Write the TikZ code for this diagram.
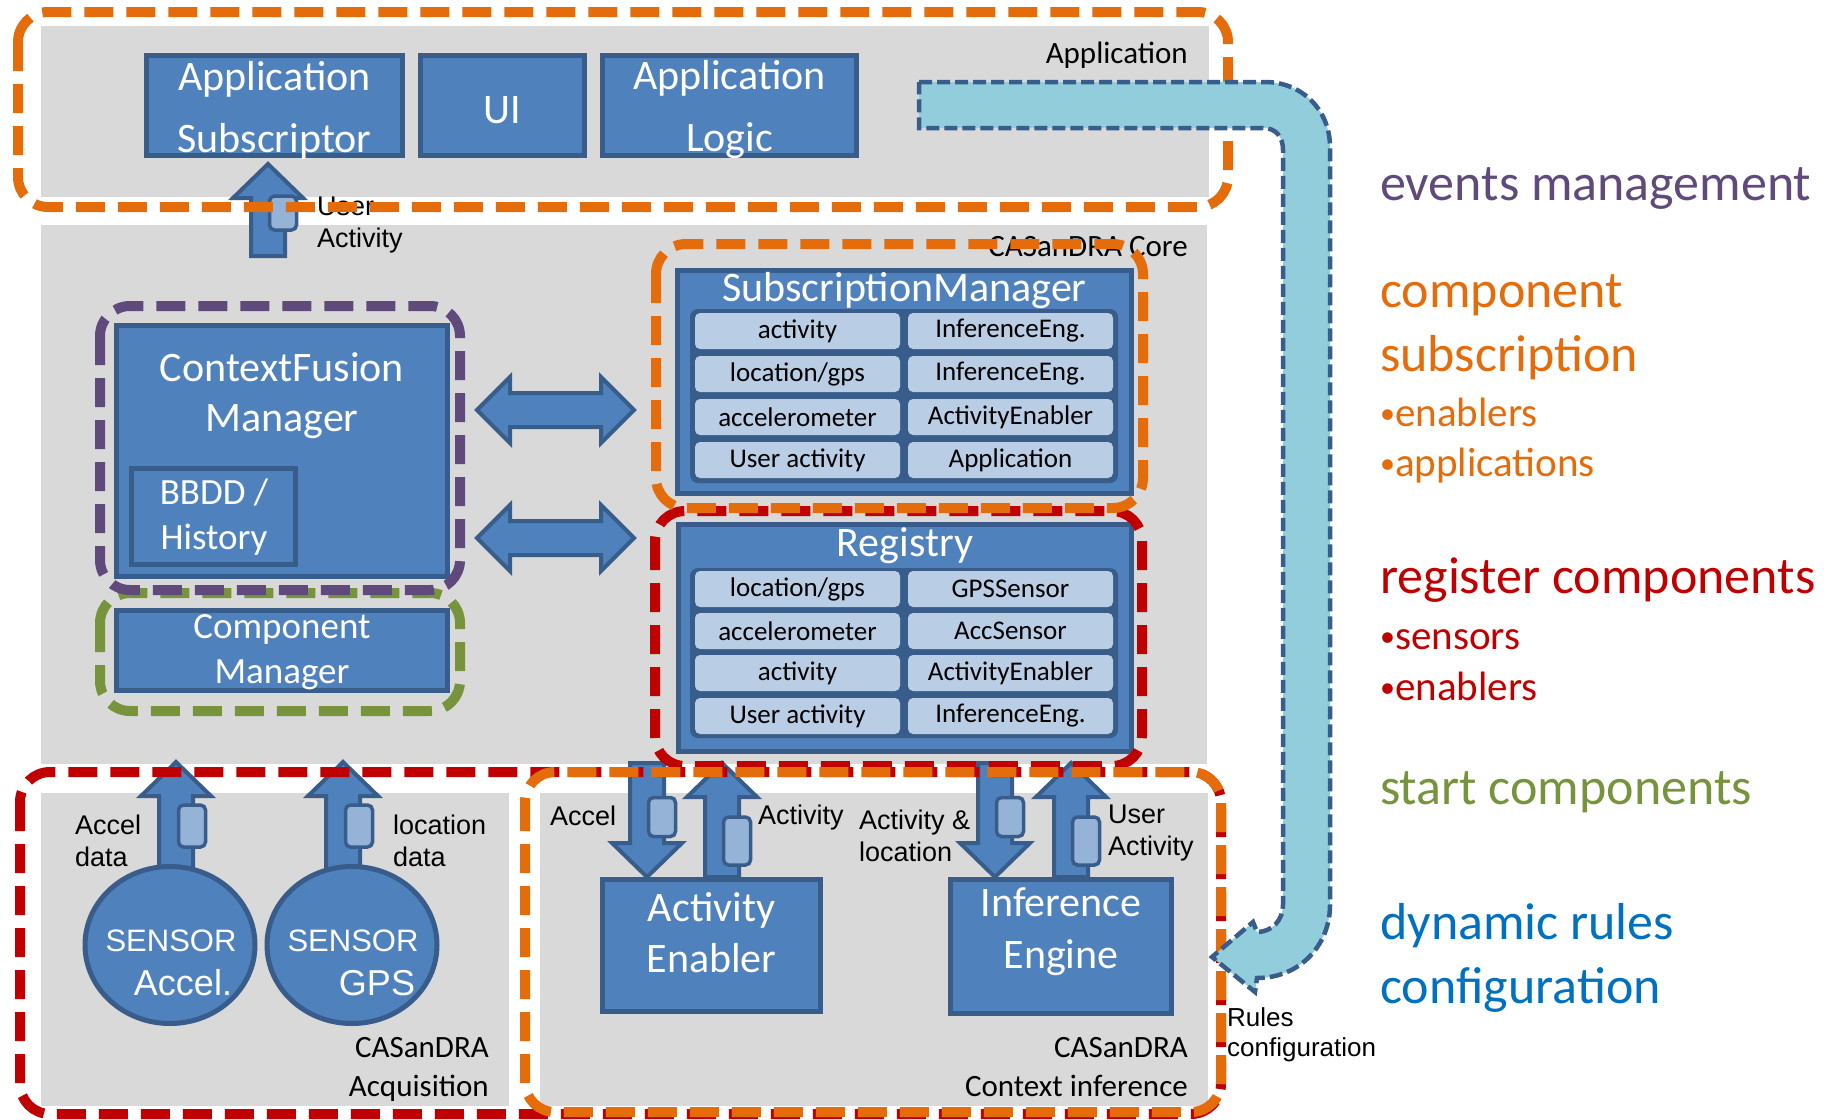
\documentclass[tikz,border=0pt]{standalone}
\usepackage{fontspec}
\setmainfont{Carlito}
\newfontfamily\arialFont{Liberation Sans}
\usetikzlibrary{calc,shapes.geometric}

\definecolor{boxBlue}{HTML}{4F81BD}
\definecolor{boxLine}{HTML}{385D8A}
\definecolor{cellBlue}{HTML}{B9CDE5}
\definecolor{tagBlue}{HTML}{95B3D7}
\definecolor{areaGray}{HTML}{D9D9D9}
\definecolor{eventFill}{HTML}{92CDDC}
\definecolor{grpOrange}{HTML}{E46C0A}
\definecolor{grpRed}{HTML}{C00000}
\definecolor{grpPurple}{HTML}{604A7B}
\definecolor{grpGreen}{HTML}{77933C}
\definecolor{grpBlue}{HTML}{0070C0}

%% small raised bullet of the legend
\newcommand{\legendDot}{{\fontsize{30}{30}\selectfont\raisebox{3pt}{•}}}
%% vertical block arrow from tail to tip
\newcommand{\blockArrow}[2]{%
  \draw[arrowDecorate] let \p1=(#1), \p2=(#2), \p3=($(#2)!34pt!(#1)$) in
    (\x2-17pt,\y1) -- (\x2-17pt,\y3) -- (\x2-35pt,\y3) -- (\x2,\y2)
    -- (\x2+35pt,\y3) -- (\x2+17pt,\y3) -- (\x2+17pt,\y1) -- cycle;}
%% horizontal double block arrow between two tips
\newcommand{\doubleArrow}[2]{%
  \draw[arrowDecorate] let \p1=(#1), \p2=(#2) in
    (\x1,\y1) -- (\x1+33pt,\y1+33pt) -- (\x1+33pt,\y1+17pt) -- (\x2-33pt,\y1+17pt)
    -- (\x2-33pt,\y1+33pt) -- (\x2,\y1) -- (\x2-33pt,\y1-33pt) -- (\x2-33pt,\y1-17pt)
    -- (\x1+33pt,\y1-17pt) -- (\x1+33pt,\y1-33pt) -- cycle;}

\begin{document}
\begin{tikzpicture}
[x=1pt,y=-1pt,
  areaDecorate/.style={fill=areaGray},
  boxDecorate/.style={draw=boxLine,fill=boxBlue,line width=5pt,inner sep=0pt},
  boxText/.style={text=white,align=center,inner sep=0pt,font=\fontsize{42}{50}\selectfont},
  frameDecorate/.style={fill=boxLine,rounded corners=8pt},
  cellDecorate/.style={fill=cellBlue,rounded corners=5pt,inner sep=0pt,minimum width=205pt,
    minimum height=36pt,font=\fontsize{27}{30}\selectfont},
  tagDecorate/.style={draw=boxLine,fill=tagBlue,line width=3.5pt,rounded corners=5pt,
    inner sep=0pt,minimum width=27pt},
  arrowDecorate/.style={draw=boxLine,fill=boxBlue,line width=4pt},
  sensorDecorate/.style={ellipse,draw=boxLine,fill=boxBlue,line width=5pt,inner sep=0pt,
    minimum width=170pt,minimum height=157pt},
  sensorText/.style={text=white,inner sep=0pt,font=\arialFont\fontsize{31}{36}\selectfont},
  groupDecorate/.style={line width=10pt,dash pattern=on 29pt off 13pt,rounded corners=30pt},
  eventDecorate/.style={fill=eventFill,draw=boxLine,line width=4.5pt,dash pattern=on 13pt off 5pt},
  noteText/.style={inner sep=0pt,align=left,font=\arialFont\fontsize{27}{32}\selectfont},
  areaText/.style={inner sep=0pt,align=right,font=\fontsize{31}{39}\selectfont},
  legendText/.style={inner sep=0pt,anchor=base west,font=\fontsize{52}{60}\selectfont},
  bulletText/.style={inner sep=0pt,anchor=base west,font=\fontsize{41}{48}\selectfont}]
\fill[white] (0,0) rectangle (1841,1119);
\useasboundingbox (0,0) rectangle (1841,1119);

%% grey areas
\fill[areaDecorate] (41,26) rectangle (1209,197);
\fill[areaDecorate] (41,225) rectangle (1207,764);
\fill[areaDecorate] (41,793) rectangle (509,1106);
\fill[areaDecorate] (540,793) rectangle (1208,1106);

%% labels lying under the dashed lines
\node[areaText,anchor=east] (coreLabel) at (1188,247) {CASanDRA Core};
\node[noteText,anchor=west] (uaLabel) at (317,225) {User\\Activity};

%% application boxes
\foreach \nodename/\x/\w/\txt in {
  appSub/274.5/256/{Application\\Subscriptor}, ui/502.5/164/UI,
  appLogic/729.5/254/{Application\\Logic}}
{
  \node[boxDecorate,minimum width=\w pt,minimum height=100pt] (\nodename) at (\x,105.5) {};
  \node[boxText,font=\fontsize{42}{62}\selectfont] (\nodename Text) at (\x,110) {\txt};
}

%% context fusion and component manager
\node[boxDecorate,minimum width=331pt,minimum height=251pt] (cfm) at (282,451) {};
\node[boxText] (cfmText) at (282,395.5) {ContextFusion\\Manager};
\node[boxDecorate,minimum width=164pt,minimum height=96pt] (bbdd) at (213.5,516.5) {};
\node[boxText,font=\fontsize{37}{45}\selectfont] (bbddText) at (214,517.5) {BBDD /\\History};
\node[boxDecorate,minimum width=331pt,minimum height=80pt] (compMgr) at (282,650.5) {};
\node[boxText,font=\fontsize{37}{45}\selectfont] (compMgrText) at (282,652.5) {Component\\Manager};

%% subscription manager
\node[boxDecorate,minimum width=454pt,minimum height=223pt] (subMgr) at (904.5,382) {};
\node[boxText] (subMgrText) at (904.5,291) {SubscriptionManager};
\fill[frameDecorate] (690,309) rectangle (1118,483);
\foreach \row/\y/\lefttxt/\righttxt in {
  1/331/activity/InferenceEng., 2/374/{location/gps}/InferenceEng.,
  3/417/accelerometer/ActivityEnabler, 4/460/User activity/Application}
{
  \node[cellDecorate] (sm\row l) at (797.5,\y) {\lefttxt};
  \node[cellDecorate] (sm\row r) at (1010.5,\y) {\righttxt};
}

%% registry
\node[boxDecorate,minimum width=453pt,minimum height=227pt] (registry) at (905,638) {};
\node[boxText] (registryText) at (905,546) {Registry};
\fill[frameDecorate] (690,568) rectangle (1118,738);
\foreach \row/\y/\lefttxt/\righttxt in {
  1/589/{location/gps}/GPSSensor, 2/631/accelerometer/AccSensor,
  3/673/activity/ActivityEnabler, 4/716/User activity/InferenceEng.}
{
  \node[cellDecorate] (rg\row l) at (797.5,\y) {\lefttxt};
  \node[cellDecorate] (rg\row r) at (1010.5,\y) {\righttxt};
}

%% enablers
\node[boxDecorate,minimum width=218pt,minimum height=132pt] (actEn) at (711.5,945.5) {};
\node[boxText,font=\fontsize{42}{51}\selectfont] (actEnText) at (711.5,932.5) {Activity\\Enabler};
\node[boxDecorate,minimum width=221pt,minimum height=134pt] (infEng) at (1061,946.5) {};
\node[boxText,font=\fontsize{42}{52}\selectfont] (infEngText) at (1061,932) {Inference\\Engine};

%% block arrows with their data tags
\foreach \name/\x/\ya/\yb in {
  ua/268/256/164, sa/176/880/762, sg/343/880/762,
  ac/647/763/877, at/722/877/763, al/995/763/877, us/1071/877/763}
{
  \coordinate (\name Tail) at (\x,\ya);
  \coordinate (\name Tip) at (\x,\yb);
  \blockArrow{\name Tail}{\name Tip}
}
\foreach \name/\x/\y/\th in {
  ua/283/213/34, sa/192/826/42, sg/359/826/42,
  ac/662/817/39, at/737/841/48, al/1010/817/39, us/1086/841/48}
{
  \node[tagDecorate,minimum height=\th pt] (\name Tag) at (\x,\y) {};
}

\coordinate (cfUp) at (477,410);
\coordinate (smLeft) at (634,410);
\coordinate (cfDown) at (477,538);
\coordinate (rgLeft) at (634,538);
\doubleArrow{cfUp}{smLeft}
\doubleArrow{cfDown}{rgLeft}

%% sensors
\node[sensorDecorate] (sensAcc) at (170,945) {};
\node[sensorDecorate] (sensGps) at (352,945) {};
\node[sensorText] (sensAccTop) at (171,941) {SENSOR};
\node[sensorText,font=\arialFont\fontsize{36}{40}\selectfont] (sensAccBot) at (183,983) {Accel.};
\node[sensorText] (sensGpsTop) at (353,941) {SENSOR};
\node[sensorText,font=\arialFont\fontsize{36}{40}\selectfont] (sensGpsBot) at (377,983) {GPS};

%% dashed groups
\draw[groupDecorate,draw=grpOrange] (18,12) rectangle (1228,207);
\draw[groupDecorate,draw=grpGreen] (100,593) rectangle (460,711);
\draw[groupDecorate,draw=grpPurple] (100,306) rectangle (460,590);
\draw[groupDecorate,draw=grpRed] (655,511) rectangle (1142,766);
\draw[groupDecorate,draw=grpOrange] (656,244) rectangle (1143,508);
\draw[groupDecorate,draw=grpRed] (20,772) rectangle (1221,1114);
\draw[groupDecorate,draw=grpOrange] (525,772) rectangle (1221,1112);

%% events arrow
\draw[eventDecorate] (919,82) -- (1265,82) .. controls (1302,82) and (1330,110) .. (1330,147)
  -- (1330,905) .. controls (1330,945) and (1300,978) .. (1257,978) -- (1255,992)
  -- (1212,957) -- (1253,922) -- (1257,932) .. controls (1272,932) and (1283,920) .. (1283,905)
  -- (1283,150) .. controls (1283,137) and (1276,128) .. (1263,128) -- (919,128) -- cycle;

%% area labels
\node[areaText,anchor=east] (appLabel) at (1188,55) {Application};
\node[areaText,anchor=east] (acqLabel) at (489,1069.5) {CASanDRA\\Acquisition};
\node[areaText,anchor=east] (infLabel) at (1188,1067) {CASanDRA\\Context inference};

%% data labels
\node[noteText,anchor=west] (saLabel) at (75,841) {Accel\\data};
\node[noteText,anchor=west] (sgLabel) at (393,841) {location\\data};
\node[noteText,anchor=west] (acLabel) at (550,816) {Accel};
\node[noteText,anchor=west] (atLabel) at (758,818) {Activity};
\node[noteText,anchor=west] (alLabel) at (859,835.5) {Activity \&\\location};
\node[noteText,anchor=west] (usLabel) at (1108,833.5) {User\\Activity};
\node[noteText,anchor=west,font=\arialFont\fontsize{26}{30}\selectfont] (rulesLabel) at (1227,1035) {Rules\\configuration};

%% legend
\node[legendText,text=grpPurple] (lgEvents) at (1380,200) {events management};
\node[legendText,text=grpOrange] (lgSubA) at (1380,307) {component};
\node[legendText,text=grpOrange] (lgSubB) at (1380,371) {subscription};
\node[bulletText,text=grpOrange] (lgSubC) at (1380,426) {\legendDot enablers};
\node[bulletText,text=grpOrange] (lgSubD) at (1380,476) {\legendDot applications};
\node[legendText,text=grpRed] (lgRegA) at (1380,593) {register components};
\node[bulletText,text=grpRed] (lgRegB) at (1380,649) {\legendDot sensors};
\node[bulletText,text=grpRed] (lgRegC) at (1380,700) {\legendDot enablers};
\node[legendText,text=grpGreen] (lgStart) at (1380,804) {start components};
\node[legendText,text=grpBlue] (lgRulesA) at (1380,939) {dynamic rules};
\node[legendText,text=grpBlue] (lgRulesB) at (1380,1003) {configuration};
\end{tikzpicture}
\end{document}
